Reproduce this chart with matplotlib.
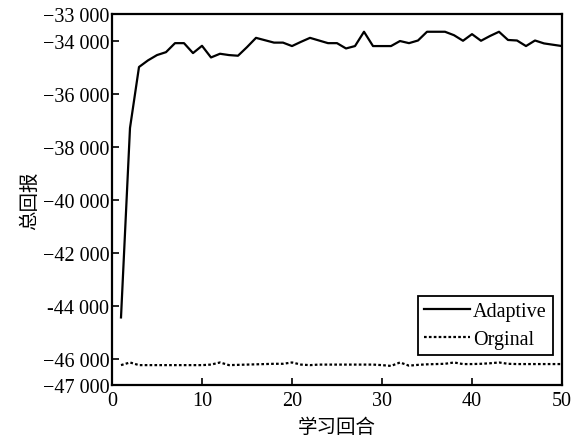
import matplotlib
matplotlib.use("Agg")
import matplotlib.pyplot as plt

episodes = list(range(1, 51))
adaptive = [-44450, -37300, -35000, -34750, -34550, -34440, -34100, -34100, -34475, -34200,
            -34640, -34500, -34550, -34575, -34250, -33900, -33990, -34080, -34080, -34210,
            -34050, -33900, -34000, -34100, -34100, -34300, -34210, -33670, -34210, -34210,
            -34210, -34020, -34100, -34000, -33670, -33670, -33670, -33800, -34010, -33760,
            -34010, -33830, -33670, -33980, -34000, -34210, -34000, -34110, -34160, -34210]
orginal = [-46250, -46150, -46250, -46250, -46250, -46250, -46250, -46250, -46250, -46250,
           -46230, -46150, -46250, -46240, -46230, -46220, -46210, -46200, -46200, -46150,
           -46230, -46250, -46230, -46230, -46230, -46230, -46230, -46230, -46230, -46250,
           -46280, -46150, -46270, -46240, -46220, -46210, -46200, -46150, -46210, -46210,
           -46200, -46180, -46150, -46200, -46210, -46210, -46210, -46210, -46210, -46210]
yticks = [-47000, -46000, -44000, -42000, -40000, -38000, -36000, -34000, -33000]
ytick_labels = ["\u221247 000", "\u221246 000", "-44 000", "\u221242 000", "\u221240 000",
                "\u221238 000", "\u221236 000", "\u221234 000", "\u221233 000"]
xticks = [0, 10, 20, 30, 40, 50]
series_names = ["Adaptive", "Orginal"]
xlabel = "学习回合"
ylabel = "总回报"

plt.rcParams['font.family'] = ['Liberation Serif', 'Noto Sans CJK SC', 'DejaVu Sans']
plt.rcParams['font.size'] = 14

fig = plt.figure(figsize=(5.77, 4.39), dpi=100)
ax = fig.add_axes([112/577, 1-386/439, 450/577, 371/439])

ax.plot(episodes, adaptive, color='black', lw=1.6, label=series_names[0])
ax.plot(episodes, orginal, color='black', lw=1.6, linestyle=(0, (1.2, 1.0)), label=series_names[1])

ax.set_xlim(0, 50)
ax.set_ylim(-47000, -33000)
ax.set_xticks(xticks)
ax.set_yticks(yticks)
ax.set_yticklabels(ytick_labels)
ax.tick_params(direction='in', length=5, width=1.2, labelsize=14.5, top=False, right=False)
ax.tick_params(axis='x', pad=4)
ax.tick_params(axis='y', pad=2)
for s in ax.spines.values():
    s.set_linewidth(1.6)

ax.set_xlabel(xlabel, family=['Noto Sans CJK SC'], fontsize=14, labelpad=5)
ax.set_ylabel(ylabel, family=['Noto Sans CJK SC'], fontsize=14, labelpad=2)

leg = ax.legend(loc='lower right', bbox_to_anchor=(0.98, 0.081), borderaxespad=0,
                fancybox=False, edgecolor='black', framealpha=1, handlelength=2.3,
                handletextpad=0.15, borderpad=0.3, labelspacing=0.45, fontsize=14.5)
leg.get_frame().set_linewidth(1.3)

fig.savefig("out.png", dpi=100)
